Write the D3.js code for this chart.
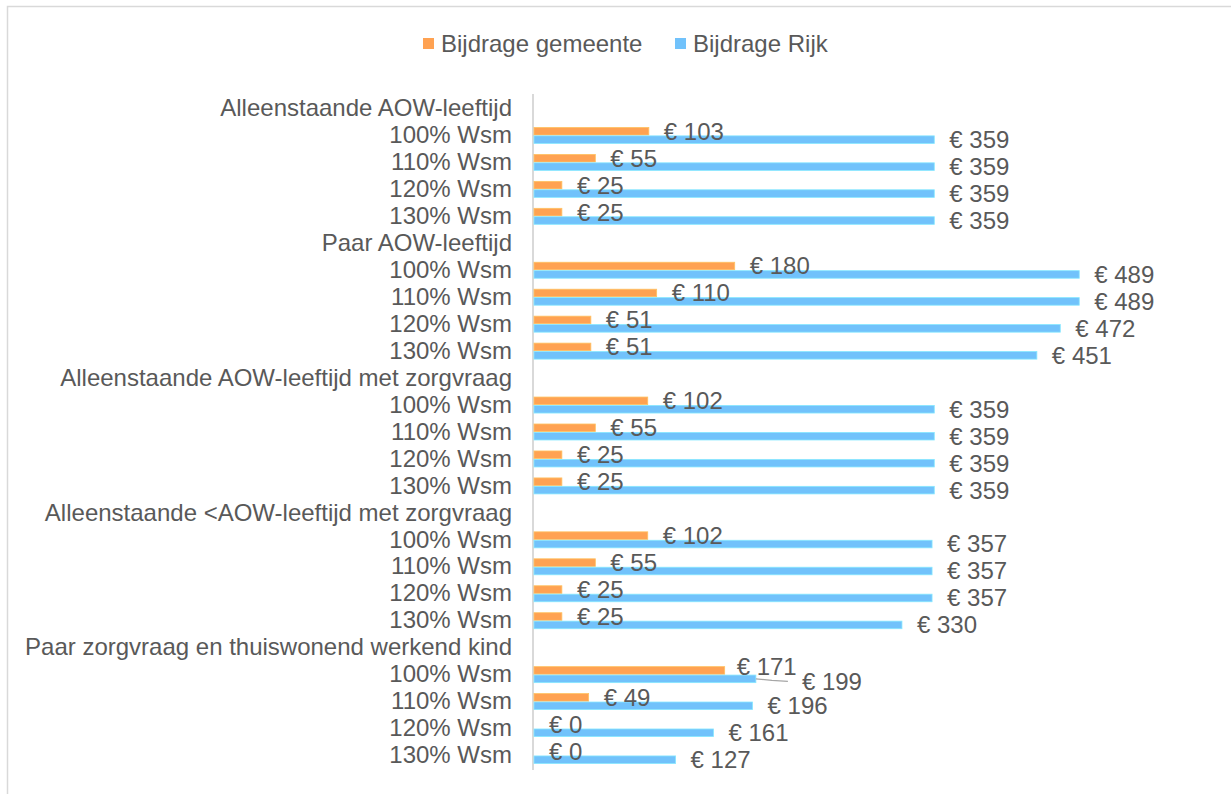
<!DOCTYPE html>
<html>
<head>
<meta charset="utf-8">
<script src="https://cdn.jsdelivr.net/npm/d3@7"></script>
<style>
  body { margin: 0; background: #fff; }
  text { font-family: "Liberation Sans", Arial, sans-serif; fill: #595959; }
</style>
</head>
<body>
<svg id="chart"></svg>
<script>
// groups and the income levels inside each group
const groups = [
  "Alleenstaande AOW-leeftijd",
  "Paar AOW-leeftijd",
  "Alleenstaande AOW-leeftijd met zorgvraag",
  "Alleenstaande <AOW-leeftijd met zorgvraag",
  "Paar zorgvraag en thuiswonend werkend kind"
];
const levels = ["100% Wsm", "110% Wsm", "120% Wsm", "130% Wsm"];

const seriesNames = ["Bijdrage gemeente", "Bijdrage Rijk"];
const seriesColors = ["#ffa252", "#71c2fb"];

// values per group, one entry per level
const gemeente = [
  [103, 55, 25, 25],
  [180, 110, 51, 51],
  [102, 55, 25, 25],
  [102, 55, 25, 25],
  [171, 49, 0, 0]
];
const rijk = [
  [359, 359, 359, 359],
  [489, 489, 472, 451],
  [359, 359, 359, 359],
  [357, 357, 357, 330],
  [199, 196, 161, 127]
];

const W = 1231, H = 794;
const FONT = "24px";
const svg = d3.select("#chart").attr("width", W).attr("height", H);

// chart frame (continues past the right and bottom of the picture)
svg.append("rect")
  .attr("x", 7.5).attr("y", 6.5)
  .attr("width", W + 20).attr("height", H + 20)
  .attr("fill", "none")
  .attr("stroke", "#d9d9d9")
  .attr("stroke-width", 1.5);

// flatten into rows: header row per group then its levels
let rows = [];
groups.forEach((g, gi) => {
  rows.push({ id: rows.length, label: g, header: true });
  levels.forEach((l, li) => {
    rows.push({
      id: rows.length, label: l, header: false,
      values: [gemeente[gi][li], rijk[gi][li]],
      key: gi + "-" + li
    });
  });
});

const x = d3.scaleLinear().domain([0, 600]).range([534, 534 + 600 * 1.115]);
const y = d3.scaleBand().domain(rows.map(r => r.id)).range([95, 769]).padding(0);
const bw = y.bandwidth();
const y1 = d3.scaleBand().domain([0, 1]).range([bw / 2 - 8, bw / 2 + 8]).paddingInner(0.1);

// category axis
const yAxis = d3.axisLeft(y)
  .tickSize(0)
  .tickPadding(21)
  .tickFormat(i => rows[i].label);

const ax = svg.append("g")
  .attr("transform", "translate(533,0)")
  .call(yAxis);
ax.select(".domain").remove();
ax.selectAll("text")
  .style("font-size", FONT)
  .style("fill", "#595959")
  .style("font-family", "'Liberation Sans', Arial, sans-serif");

svg.append("line")
  .attr("x1", 533).attr("x2", 533)
  .attr("y1", 94).attr("y2", 770)
  .attr("stroke", "#d9d9d9").attr("stroke-width", 2);

// label tweaks for the crowded pair (Excel moved these by hand)
const labelShift = {
  "4-0": [[-3, -4], [31, 2.5]]
};

const dataRows = rows.filter(r => !r.header);

const bars = svg.append("g").attr("id", "bars");
const labels = svg.append("g").attr("id", "labels");

dataRows.forEach(r => {
  r.values.forEach((v, s) => {
    const by = y(r.id) + y1(s);
    const cy = by + y1.bandwidth() / 2;
    if (v > 0) {
      bars.append("rect")
        .attr("x", x(0))
        .attr("y", by)
        .attr("width", x(v) - x(0))
        .attr("height", y1.bandwidth())
        .attr("fill", seriesColors[s])
        .attr("stroke", d3.color(seriesColors[s]).brighter(0.5))
        .attr("stroke-width", 0.8);
    }
    let shift = labelShift[r.key] ? labelShift[r.key][s] : [0, 0];
    let lx = x(v) + 15 + shift[0];
    let ly = cy + shift[1];
    labels.append("text")
      .attr("x", lx)
      .attr("y", ly)
      .attr("dy", "0.35em")
      .style("font-size", FONT)
      .text("€ " + v);
    if (labelShift[r.key] && s == 1) {
      // leader line from bar end to moved label
      labels.append("path")
        .attr("d", d3.line()([[x(v), cy], [x(v) + 16, cy + 1.5], [x(v) + 32, cy + 2.5]]))
        .attr("fill", "none")
        .attr("stroke", "#a6a6a6")
        .attr("stroke-width", 1.2);
    }
  });
});

// legend
const legend = svg.append("g").attr("id", "legend");
const legendX = [423, 675];
seriesNames.forEach((n, i) => {
  legend.append("rect")
    .attr("x", legendX[i]).attr("y", 38)
    .attr("width", 11).attr("height", 11)
    .attr("fill", seriesColors[i]);
  legend.append("text")
    .attr("x", legendX[i] + 18).attr("y", 52)
    .style("font-size", FONT)
    .text(n);
});
</script>
</body>
</html>
